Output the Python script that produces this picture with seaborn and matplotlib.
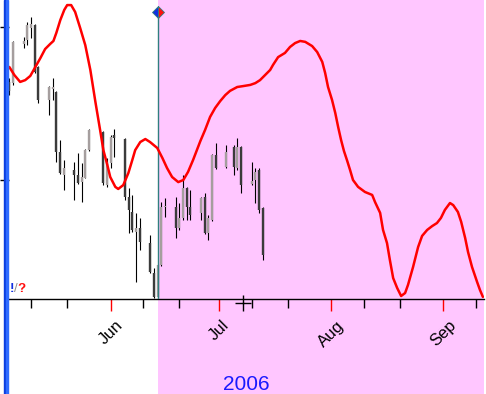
import matplotlib
matplotlib.use("Agg")
import matplotlib.pyplot as plt
import matplotlib.dates as mdates
from matplotlib.patches import Rectangle
from matplotlib.lines import Line2D
import pandas as pd
import seaborn as sns

# daily bars, 2006-05-04 .. 2006-07-13 (trading days)
holidays = ["2006-05-29", "2006-07-04"]
opens = [33.20, 33.17, 34.45, 34.58, 34.97, 35.07, 33.69, 32.61, 32.97, 32.88,
         30.92, 30.16, 30.33, 30.16, 29.93, 30.07, 30.98, 31.57, 29.84, 30.56,
         31.47, 31.34, 29.44, 28.95, 28.30, 28.43, 27.94, 26.96, 26.18, 27.22,
         29.10, 29.12, 28.43, 28.76, 29.74, 29.12, 28.92, 29.44, 28.27, 28.69,
         30.82, 30.42, 31.08, 30.39, 31.08, 29.87, 30.00, 30.33, 29.08]
highs = [33.33, 34.55, 34.67, 35.16, 35.33, 35.10, 33.72, 33.07, 33.33, 32.91,
         31.31, 30.65, 30.59, 30.88, 30.56, 31.00, 31.65, 31.60, 30.72, 31.47,
         31.67, 31.37, 29.74, 29.50, 28.92, 28.76, 28.20, 27.12, 27.25, 29.28,
         29.41, 29.44, 29.25, 30.16, 29.77, 29.67, 29.44, 29.58, 28.86, 30.85,
         31.21, 31.14, 31.14, 31.37, 31.10, 30.59, 30.39, 30.39, 29.10]
lows = [32.78, 33.10, 34.31, 34.41, 34.64, 33.50, 32.52, 32.12, 32.61, 30.59,
        30.20, 29.67, 29.35, 29.87, 29.28, 30.05, 30.95, 29.84, 29.77, 30.39,
        30.75, 29.35, 28.27, 28.30, 26.67, 27.71, 26.96, 26.14, 26.14, 27.20,
        28.79, 28.10, 28.37, 28.69, 28.69, 28.69, 28.69, 28.24, 28.04, 28.66,
        30.36, 30.39, 30.16, 30.33, 29.58, 29.84, 29.25, 28.92, 27.39]
closes = [32.90, 34.51, 34.55, 35.07, 35.10, 33.53, 32.61, 33.04, 33.04, 30.92,
          30.23, 30.39, 30.16, 29.90, 30.10, 30.98, 31.63, 29.90, 30.59, 31.41,
          31.37, 29.44, 29.02, 28.37, 28.43, 27.97, 27.00, 26.18, 27.22, 29.12,
          29.15, 28.43, 28.76, 29.74, 29.12, 28.86, 29.41, 28.27, 28.76, 30.82,
          30.39, 30.92, 30.42, 31.08, 29.84, 29.97, 30.26, 29.02, 27.55]

# cycle curve (0-100), days counted from 2006-05-04
curve_days = [0, 1.4, 3.0, 4.4, 5.8, 7.2, 8.6, 9.9, 11.3, 12.2, 13.0, 14.1, 15.2,
              16.0, 17.1, 18.2, 19.6, 21.0, 22.4, 23.8, 25.1, 26.0, 27.1, 27.9,
              29.3, 30.1, 31.5, 32.9, 34.0, 34.8, 36.2, 37.6, 38.9, 40.9, 42.3,
              43.6, 45.0, 46.7, 48.1, 49.4, 50.8, 52.8, 54.1, 55.5, 56.9, 58.3,
              59.7, 61.0, 63.0, 64.6, 66.6, 68.0, 69.3, 70.7, 72.1, 72.9, 74.3,
              76.2, 77.6, 79.0, 80.4, 81.8, 83.7, 85.1, 86.5, 87.3, 88.1, 89.2,
              90.1, 90.9, 91.7, 92.5, 93.4, 94.2, 95.0, 96.4, 98.3, 100.3, 101.1,
              102.5, 103.3, 104.4, 105.2, 106.1, 107.2, 108.3, 109.4, 110.2,
              111.6, 113.0, 114.1, 115.5, 116.9, 118.2, 119.3, 120.4, 121.8,
              122.7, 124.0, 124.9, 126.0, 126.8, 127.9, 129.3, 130.1, 130.9]
curve_vals = [77.6, 74.9, 72.6, 73.2, 74.6, 77.6, 80.6, 83.6, 85.3, 86.3, 89.0,
              93.3, 96.7, 98.3, 98.3, 96.0, 90.6, 84.9, 76.6, 65.9, 56.5, 49.8,
              44.8, 40.8, 37.5, 36.8, 38.1, 42.1, 46.5, 49.8, 52.5, 53.5, 52.5,
              50.5, 47.2, 43.8, 40.8, 39.1, 39.8, 42.5, 46.5, 52.8, 56.5, 60.9,
              63.9, 66.2, 68.2, 69.6, 70.9, 71.2, 71.6, 72.2, 73.2, 74.9, 76.6,
              78.3, 80.9, 82.3, 84.3, 85.6, 86.3, 86.0, 84.6, 82.6, 79.3, 75.6,
              70.9, 66.6, 62.2, 57.5, 53.2, 49.5, 46.2, 43.1, 39.8, 37.5, 35.8,
              34.8, 32.4, 28.8, 23.1, 18.7, 13.0, 7.0, 3.7, 1.0, 2.0, 4.7, 10.7,
              17.4, 21.1, 23.1, 24.4, 25.4, 27.1, 29.8, 32.1, 31.4, 29.1, 25.8,
              20.4, 15.7, 10.7, 5.7, 3.0, 0.7]

month_ticks = ["2006-06-01", "2006-07-01", "2006-08-01", "2006-09-01"]
month_labels = ["Jun", "Jul", "Aug", "Sep"]
price_ticks = [30, 35]
year_label = "2006"
split_date = "2006-06-14"

W, H = 486, 394

sns.set_style("white")
plt.rcParams["font.family"] = ["Liberation Sans", "DejaVu Sans"]

dates = pd.bdate_range("2006-05-04", "2006-07-13")
dates = dates[~dates.isin(pd.to_datetime(holidays))]
bars = pd.DataFrame({"date": dates, "open": opens, "high": highs,
                     "low": lows, "close": closes})
bars["up"] = bars["close"] >= bars["open"]

start = pd.Timestamp("2006-05-04")
curve = pd.DataFrame({"date": start + pd.to_timedelta(curve_days, unit="D"),
                      "value": curve_vals})

fig = plt.figure(figsize=(W / 100, H / 100), dpi=100)
ax = fig.add_axes([9 / W, 1 - 299 / H, 475 / W, 299 / H])
ax.set_facecolor("none")

x0 = mdates.date2num(pd.Timestamp("2006-05-03 22:00"))
x1 = mdates.date2num(pd.Timestamp("2006-09-12 05:00"))
ax.set_xlim(x0, x1)
ax.set_ylim(26.11, 35.88)

# shaded future zone, reaching down under the axis labels
xs = mdates.date2num(pd.Timestamp(split_date))
span = ax.axvspan(xs, x1, ymin=-95 / 299, ymax=1, color="#ffc6ff", lw=0, zorder=0)
span.set_clip_on(False)

# wicks and bodies
ax.vlines(bars["date"], bars["low"], bars["high"], color="black", lw=0.8, zorder=3)
for up, col in [(True, "#a59e9e"), (False, "#3b3b3b")]:
    b = bars[bars["up"] == up]
    lo = b[["open", "close"]].min(axis=1)
    hi = b[["open", "close"]].max(axis=1)
    ax.vlines(b["date"], lo, hi, color=col, lw=1.7, zorder=4)

# split line with marker
ax.axvline(xs, ymin=0, ymax=1 - 12 / 299, color="#2f7f7f", lw=1, zorder=5)
ax.plot([xs], [35.49], marker="D", ms=6.5, fillstyle="left",
        markerfacecolor="#1030e0", markerfacecoloralt="#ff1010",
        markeredgecolor="#2f7f7f", mew=0.6, zorder=6, clip_on=False)

# cycle curve on its own scale
ax2 = ax.twinx()
ax2.set_ylim(0, 100)
sns.lineplot(data=curve, x="date", y="value", ax=ax2, color="#ff0000",
             lw=1.8, sort=False)
ax2.set_axis_off()
ax2.set_xlim(x0, x1)

# axes styling
for s in ["top", "right", "left"]:
    ax.spines[s].set_visible(False)
ax.spines["bottom"].set_color("black")
ax.spines["bottom"].set_linewidth(1)

ax.set_xticks(pd.to_datetime(month_ticks))
ax.set_xticklabels(month_labels, rotation=45, fontsize=12, color="black")
ax.xaxis.set_minor_locator(mdates.DayLocator(bymonthday=[10, 20]))
ax.tick_params(axis="x", which="major", length=8.6, width=1, color="red",
               pad=5, bottom=True, labelcolor="black")
ax.tick_params(axis="x", which="minor", length=6.5, width=1, color="black",
               bottom=True)
ax.set_yticks(price_ticks)
ax.tick_params(axis="y", which="major", length=6.5, width=1, color="black",
               left=True, labelleft=False)
ax.set_xlabel("")
ax.set_ylabel("")

# left blue strip
fig.add_artist(Rectangle((4 / W, 0), 2 / W, 1, transform=fig.transFigure,
                         color="#0a3ee0", zorder=10))
fig.add_artist(Rectangle((6 / W, 0), 2 / W, 1, transform=fig.transFigure,
                         color="#2f6cff", zorder=10))

# status marks
fig.text(10 / W, 1 - 289 / H, "!", color="#1030e0", fontsize=9.5,
         fontweight="bold", va="center")
fig.text(14 / W, 1 - 289 / H, "/", color="#909090", fontsize=9.5, va="center")
fig.text(17.5 / W, 1 - 289 / H, "?", color="#ff1010", fontsize=9.5,
         fontweight="bold", va="center")

# cursor cross
fig.add_artist(Line2D([243 / W], [1 - 303 / H], marker="+", ms=11, mew=1,
                      color="black", transform=fig.transFigure, zorder=10))

fig.text(246 / W, 1 - 384 / H, year_label, color="#1a1aff", fontsize=15,
         ha="center", va="center")

fig.savefig("out.png", dpi=100)
